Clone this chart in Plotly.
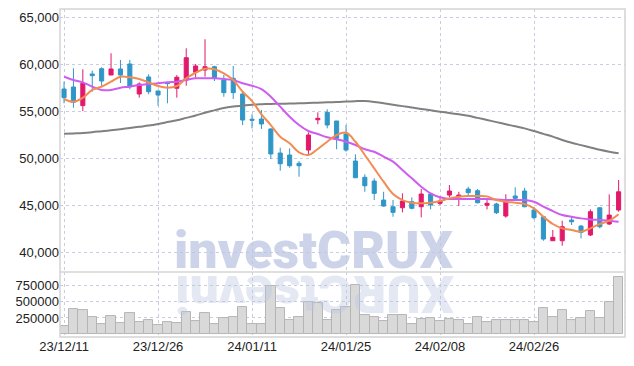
import plotly.graph_objects as go

dates = ["2023-12-11","2023-12-12","2023-12-13","2023-12-14","2023-12-15","2023-12-18","2023-12-19","2023-12-20","2023-12-21","2023-12-22",
         "2023-12-26","2023-12-27","2023-12-28","2024-01-02","2024-01-03","2024-01-04","2024-01-05","2024-01-08","2024-01-09","2024-01-10",
         "2024-01-11","2024-01-12","2024-01-15","2024-01-16","2024-01-17","2024-01-18","2024-01-19","2024-01-22","2024-01-23","2024-01-24",
         "2024-01-25","2024-01-26","2024-01-29","2024-01-30","2024-01-31","2024-02-01","2024-02-02","2024-02-05","2024-02-06","2024-02-07",
         "2024-02-08","2024-02-13","2024-02-14","2024-02-15","2024-02-16","2024-02-19","2024-02-20","2024-02-21","2024-02-22","2024-02-23",
         "2024-02-26","2024-02-27","2024-02-28","2024-02-29","2024-03-04","2024-03-05","2024-03-06","2024-03-07","2024-03-08","2024-03-11"]

open_ = [57370,57580,55600,58970,59530,58860,59500,60030,56840,58650,
         57160,58050,57450,58330,59150,59390,59740,58330,58510,56840,
         54150,54180,53120,50560,50350,49470,50880,54100,54890,53970,
         52580,49710,47980,47580,45560,44850,44740,45380,44850,46200,
         45210,46090,45910,46730,46550,45000,45140,43860,45990,46520,
         44500,43780,41230,41230,43430,42790,41840,44740,43010,44500]
high = [58150,59570,59470,59320,59680,61170,60460,60460,58080,58940,
        57200,58100,58860,61700,60030,62660,59850,58860,59820,57080,
        54680,55140,53190,51130,51060,49710,52760,54890,55210,53970,
        53540,50420,48300,47870,46440,45560,46270,45850,46730,46270,
        45990,47160,46440,46980,46730,45640,45280,46170,46910,46870,
        44800,43860,42370,43360,43860,42900,44570,44790,46170,47690]
low = [55850,55380,55030,57080,57700,58860,58000,57340,56450,56810,
       55590,55850,56450,57720,58570,58680,58220,56550,56310,53540,
       53190,53120,49920,48680,49000,48040,50270,53620,53190,50960,
       50700,47900,46440,45560,44850,43780,44250,44570,43720,44570,
       45030,45850,44920,45910,45210,44570,44070,43680,45560,44790,
       43500,41230,41230,40700,42900,41480,41730,42550,42900,44320]
close = [56450,55960,57980,58790,58220,59500,58860,57620,57900,57080,
         56730,57950,58620,60700,59820,59740,58510,56980,56980,54070,
         54050,53650,50460,49420,49210,49210,52480,54250,53540,52130,
         50880,47930,47080,46270,44920,44250,45450,44680,46200,45030,
         45450,46520,46090,46340,45270,45210,44210,45380,45740,44850,
         43680,41410,41590,42720,43250,42120,44320,42720,43960,46440]

ma_short = [56310,56020,56450,57270,57620,58150,58680,58620,58440,58080,
            57690,57510,57690,58510,59100,59520,59470,59040,58330,57080,
            56090,54680,53540,52300,51590,50640,50350,50990,51760,52480,
            52740,51760,50350,48930,47510,46200,45560,45280,45210,45280,
            45450,45740,45910,45990,45990,45950,45560,45380,45280,45140,
            44680,43780,43010,42550,42370,42190,42550,43010,43360,44040]
ma_mid = [58680,58330,58080,57620,57270,57270,57510,57620,57800,57900,
          57980,58080,58150,58330,58510,58510,58510,58440,58330,57980,
          57720,57370,56550,55490,54420,53540,52900,52580,52230,52020,
          51760,51410,50960,50700,50170,49640,48750,47870,46980,46270,
          45850,45670,45670,45670,45670,45670,45630,45560,45560,45560,
          45380,44850,44390,43960,43780,43610,43500,43430,43360,43250]
ma_long = [52600,52650,52700,52780,52880,52980,53100,53220,53350,53480,
           53650,53850,54050,54300,54550,54850,55100,55350,55500,55600,
           55700,55750,55780,55800,55820,55850,55880,55920,55950,55990,
           56030,56080,56090,56000,55850,55700,55550,55400,55250,55100,
           54960,54820,54680,54520,54300,54080,53850,53620,53400,53180,
           52900,52600,52300,51950,51650,51400,51150,50900,50700,50530]

volume = [126000,389000,375000,263000,164000,277000,178000,333000,192000,221000,
          140000,192000,178000,347000,206000,319000,164000,249000,263000,417000,
          164000,150000,740000,403000,221000,263000,492000,478000,225000,375000,
          421000,758000,291000,267000,197000,295000,295000,154000,229000,249000,
          197000,239000,211000,154000,263000,183000,211000,225000,225000,211000,
          183000,403000,267000,365000,225000,253000,351000,253000,492000,871000]

price_ticks = [40000, 45000, 50000, 55000, 60000, 65000]
volume_ticks = [250000, 500000, 750000]
tick_idx = [0, 10, 20, 30, 40, 50]
tick_dates = [dates[i] for i in tick_idx]
tick_text = [d[2:].replace("-", "/") for d in tick_dates]

RED = "#E2196B"
BLUE = "#3096C8"
GRID = "#c9cde0"
FONT = "Liberation Sans, Arial, sans-serif"
TICKFONT = dict(family=FONT, size=13, color="#222")

fig = go.Figure()

fig.add_trace(go.Candlestick(
    x=dates, open=open_, high=high, low=low, close=close,
    increasing=dict(line=dict(color=RED, width=1), fillcolor=RED),
    decreasing=dict(line=dict(color=BLUE, width=1), fillcolor=BLUE),
    whiskerwidth=0, xaxis="x", yaxis="y", showlegend=False, hoverinfo="skip"))

fig.add_trace(go.Scatter(x=dates, y=ma_long, mode="lines",
                         line=dict(color="#808080", width=2, shape="spline"),
                         showlegend=False, hoverinfo="skip"))
fig.add_trace(go.Scatter(x=dates, y=ma_mid, mode="lines",
                         line=dict(color="#CF5CF0", width=2, shape="spline"),
                         showlegend=False, hoverinfo="skip"))
fig.add_trace(go.Scatter(x=dates, y=ma_short, mode="lines",
                         line=dict(color="#F28C52", width=2, shape="spline"),
                         showlegend=False, hoverinfo="skip"))

fig.add_trace(go.Bar(x=dates, y=volume, xaxis="x", yaxis="y2",
                     marker=dict(color="#d9d9d9", line=dict(color="#b5b5b5", width=1)),
                     showlegend=False, hoverinfo="skip"))

split = 0.198

fig.update_layout(
    width=634, height=366,
    margin=dict(l=60, r=9, t=9, b=29),
    paper_bgcolor="white", plot_bgcolor="white",
    bargap=0, boxgap=0.38,
    showlegend=False,
    font=dict(family=FONT, size=13, color="#222"),
    xaxis=dict(type="category", range=[-0.43, 59.68], anchor="y2",
               tickvals=tick_dates, ticktext=tick_text, automargin=False,
               showgrid=True, gridcolor=GRID, griddash="dot", gridwidth=1,
               ticks="", showline=False, zeroline=False,
               rangeslider=dict(visible=False), tickfont=TICKFONT),
    yaxis=dict(domain=[split, 1], range=[37900, 65880], automargin=False,
               tickvals=price_ticks, tickformat=",",
               showgrid=True, gridcolor=GRID, griddash="dot", gridwidth=1,
               zeroline=False, ticks="", showline=False, tickfont=TICKFONT),
    yaxis2=dict(domain=[0, split], range=[-42000, 955000], automargin=False,
                tickvals=volume_ticks, tickformat="d",
                showgrid=True, gridcolor=GRID, griddash="dot", gridwidth=1,
                zeroline=False, ticks="", showline=False, tickfont=TICKFONT),
)

frame = "#d4d4d4"
fig.add_shape(type="rect", xref="paper", yref="paper", x0=0, x1=1, y0=0, y1=1,
              line=dict(color=frame, width=1.5), layer="above")
fig.add_shape(type="line", xref="paper", yref="paper", x0=0, x1=1, y0=split, y1=split,
              line=dict(color=frame, width=1.5), layer="above")

wm_font = dict(family="Roboto, Liberation Sans, sans-serif", size=52,
               color="rgba(188,197,226,0.75)", weight=900)
fig.add_annotation(text="investCRUX", xref="paper", yref="paper",
                   x=0.4504, y=(337 - 283) / 328, xanchor="center", yanchor="bottom",
                   showarrow=False, font=wm_font)
wm_font2 = dict(wm_font)
wm_font2["color"] = "rgba(188,197,226,0.40)"
fig.add_annotation(text="XURCtsevni", xref="paper", yref="paper", textangle=180,
                   x=0.4504, y=(337 - 261) / 328, xanchor="center", yanchor="top",
                   showarrow=False, font=wm_font2)

fig.write_html("out.html", config={"displayModeBar": False},
               post_script="document.body.style.margin='0';document.body.style.overflow='hidden';")
